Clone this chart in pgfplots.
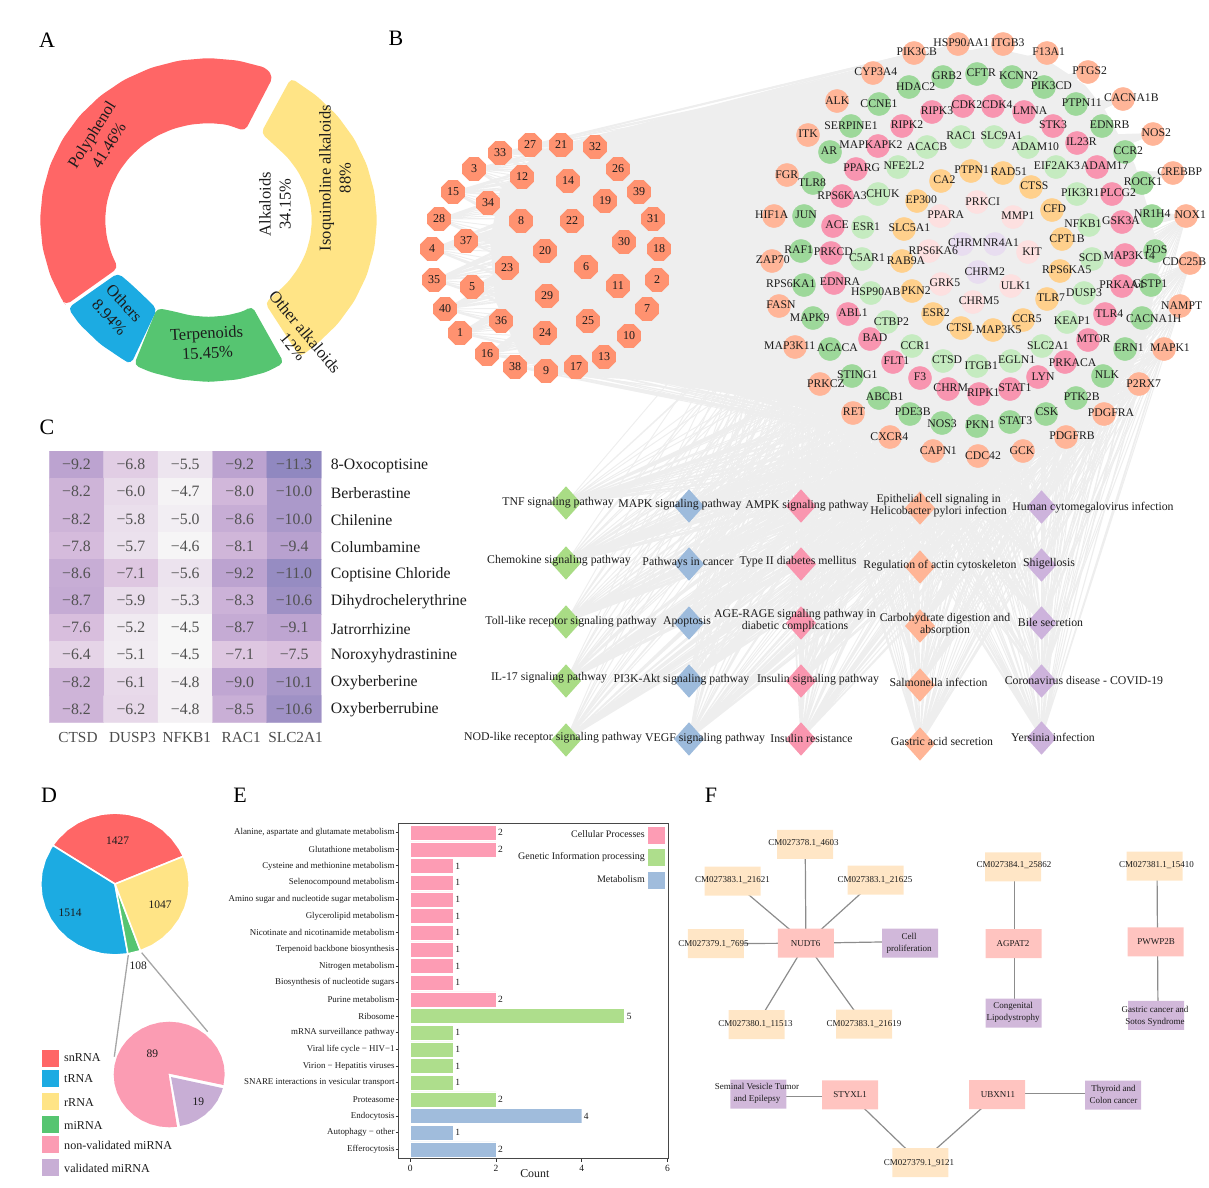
\documentclass[border=0pt]{standalone}
\usepackage{fontspec}
\setmainfont{Liberation Serif}
\usepackage{pgfplots}
\usepackage{pgfplotstable}
\pgfplotsset{compat=1.18}
\newcommand\fs[2]{\fontsize{#1}{#2}\selectfont}

\definecolor{dred}{HTML}{FF6666}
\definecolor{dyel}{HTML}{FFE486}
\definecolor{dblu}{HTML}{1CABE2}
\definecolor{dgrn}{HTML}{56C571}
\definecolor{mpink}{HTML}{FB9CB3}
\definecolor{mlil}{HTML}{C8AED5}
\definecolor{edge}{HTML}{EEEEEE}
\definecolor{comp}{HTML}{FF9270}
\definecolor{tS}{HTML}{FFB598}
\definecolor{tG}{HTML}{9DD89A}
\definecolor{tP}{HTML}{F895B0}
\definecolor{tL}{HTML}{C5EBC0}
\definecolor{tO}{HTML}{FFD08C}
\definecolor{tW}{HTML}{FDE0E0}
\definecolor{tV}{HTML}{E8DDF0}
\definecolor{pG}{HTML}{A9DC85}
\definecolor{pB}{HTML}{9DBBDC}
\definecolor{pP}{HTML}{F996AF}
\definecolor{pO}{HTML}{FFB596}
\definecolor{pV}{HTML}{CDB3DC}
\definecolor{ePk}{HTML}{FD9CB4}
\definecolor{eGr}{HTML}{AEDE8C}
\definecolor{eBl}{HTML}{A0BCDC}
\definecolor{fP}{HTML}{FFC4C0}
\definecolor{fO}{HTML}{FFE6C6}
\definecolor{fV}{HTML}{D1B8DA}
\definecolor{ink}{HTML}{1C1C1C}

\tikzset{
  lab/.style={font=\fs{11.8}{12}, text=ink, inner sep=0pt, align=center},
  flab/.style={font=\fs{9}{12}, text=ink, inner sep=0pt, align=center},
  dlab/.style={font=\fs{16.5}{20}, text=ink, inner sep=0pt, align=center},
  plab/.style={font=\fs{11.5}{13}, text=ink, inner sep=0pt},
  panel/.style={font=\fs{22}{24}, text=black, inner sep=0pt},
}
\pgfplotsset{pixelaxis/.style={
  scale only axis, width=1209pt, height=1187pt,
  xmin=0, xmax=1209, ymin=0, ymax=1187, y dir=reverse,
  axis lines=none, clip=false}}

\pgfdeclareplotmark{nil}{}
\pgfdeclareplotmark{oct}{%
  \pgfpathmoveto{\pgfpointpolar{22.5}{12.8pt}}
  \pgfpathlineto{\pgfpointpolar{67.5}{12.8pt}}
  \pgfpathlineto{\pgfpointpolar{112.5}{12.8pt}}
  \pgfpathlineto{\pgfpointpolar{157.5}{12.8pt}}
  \pgfpathlineto{\pgfpointpolar{202.5}{12.8pt}}
  \pgfpathlineto{\pgfpointpolar{247.5}{12.8pt}}
  \pgfpathlineto{\pgfpointpolar{292.5}{12.8pt}}
  \pgfpathlineto{\pgfpointpolar{337.5}{12.8pt}}
  \pgfpathclose\pgfusepathqfill}
\pgfdeclareplotmark{dia}{%
  \pgfpathmoveto{\pgfqpoint{15pt}{0pt}}\pgfpathlineto{\pgfqpoint{0pt}{16.7pt}}
  \pgfpathlineto{\pgfqpoint{-15pt}{0pt}}\pgfpathlineto{\pgfqpoint{0pt}{-16.7pt}}
  \pgfpathclose\pgfusepathqfill}
\pgfdeclareplotmark{rbox}{%
  \pgfsetcornersarced{\pgfqpoint{3pt}{3pt}}
  \pgfpathmoveto{\pgfqpoint{0pt}{-14.5pt}}
  \pgfpathlineto{\pgfqpoint{28pt}{-14.5pt}}
  \pgfpathlineto{\pgfqpoint{28pt}{14.5pt}}
  \pgfpathlineto{\pgfqpoint{-28pt}{14.5pt}}
  \pgfpathlineto{\pgfqpoint{-28pt}{-14.5pt}}
  \pgfpathclose\pgfusepathqfill}

% compounds of panel B
\pgfplotstableread{
x y n
530 145 27
561 145 21
595 147 32
500 153 33
474 169 3
522 177 12
568 181 14
618 169 26
639 192 39
453 192 15
488 203 34
605 201 19
439 219 28
521 221 8
572 221 22
653 219 31
466 241 37
432 249 4
545 251 20
624 242 30
659 249 18
586 267 6
507 268 23
434 280 35
472 287 5
657 280 2
618 286 11
547 296 29
445 309 40
647 309 7
501 321 36
588 321 25
545 333 24
460 333 1
629 336 10
487 354 16
604 357 13
576 367 17
515 367 38
546 371 9
}\compounds

% targets of panel B: centre, label offset, group, name
\pgfplotstableread{
x y dx dy c name
914 53 2.7 1.7 s PIK3CB
958 44 3.3 1.3 s HSP90AA1
1003 44 5 1.3 s ITGB3
1047 53 1.7 1 s F13A1
873 73 2.7 1 s CYP3A4
1088 72 1.7 1.3 s PTGS2
837 101 0.3 0.7 s ALK
1123 99 8.3 1 s CACNA1B
808 135 0 1.3 s ITK
1153 134 3.3 1 s NOS2
787 175 -0.3 0.7 s FGR
1173 173 6.7 1 s CREBBP
774 216 -2.3 1 s HIF1A
1186 216 4.3 1 s NOX1
772 261 0.7 1.3 s ZAP70
1190 263 -5.7 1 s CDC25B
779 306 2 1.7 s FASN
1180 306 1.7 0.7 s NAMPT
795 347 -5.3 1.7 s MAP3K11
1164 349 6 1.3 s MAPK1
820 384 6 0.7 s PRKCZ
1139 384 4.7 0.7 s P2RX7
853 413 1 1.3 s RET
1104 414 7 1 s PDGFRA
890 437 -0.7 0 s CXCR4
1066 437 6 1 s PDGFRB
933 451 5.3 0.7 s CAPN1
978 456 5 0.7 s CDC42
1023 451 -1 0.7 s GCK
943 77 4 1.3 g GRB2
977 74 4.3 1.7 g CFTR
1012 77 6.7 1.3 g KCNN2
909 87 6.7 0.7 g HDAC2
1044 87 7.3 1 g PIK3CD
879 104 0 0.7 g CCNE1
1076 104 5.7 1.3 g PTPN11
851 126 0 0.7 g SERPINE1
1102 126 7.7 1 g EDNRB
830 152 -1 1 g AR
1125 152 3.3 1 g CCR2
813 183 -1 0.7 g TLR8
1142 183 1 1.3 g ROCK1
804 216 2 1 g JUN
1152 216 0.3 2.7 g NR1H4
801 251 -2.3 1.7 g RAF1
1155 251 1.7 1.7 g FOS
804 285 -13.3 1 g RPS6KA1
1151 285 -1 1.3 g GSTP1
813 318 -3.3 0 g MAPK9
1142 318 11.7 -0.7 g CACNA1H
830 349 7.3 1.3 g ACACA
1125 349 4 1.3 g ERN1
852 376 5.3 1 g STING1
1103 376 4 1 g NLK
879 398 5.7 1 g ABCB1
1076 398 5.7 1 g PTK2B
910 414 2.7 2.7 g PDE3B
1046 414 1 2.7 g CSK
942 423 0 -0.7 g NOS3
1010 422 5.7 1 g STAT3
977 426 3.3 1.3 g PKN1
932 112 5 1.3 p RIPK3
963 106 4 1.3 p CDK2
993 106 4.3 1.3 p CDK4
1024 112 6 1.3 p LMNA
902 126 5 1.3 p RIPK2
1053 126 0 1 p STK3
878 146 -7 1 p MAPKAPK2
1077 143 4.3 1.3 p IL23R
856 169 5.7 1 p PPARG
1097 167 7.7 1.7 p ADAM17
842 196 0 0.7 p RPS6KA3
1112 194 6 1 p PLCG2
833 226 4 1.3 p ACE
1122 222 -1 1.7 p GSK3A
831 253 2.3 1.7 p PRKCD
1125 255 4.3 -0.7 p MAP3K14
834 283 6 1.3 p EDNRA
1122 286 0 1.7 p PRKAA1
848 314 5 1.7 p ABL1
1105 314 4.3 0.3 p TLR4
870 339 5 1 p BAD
1088 340 5.7 1 p MTOR
893 362 3.3 1 p FLT1
1065 362 7.7 -0.7 p PRKACA
920 378 0 1 p F3
1038 377 5 0.7 p LYN
948 389 2.7 1.3 p CHRM
979 394 4.3 1 p RIPK1
1010 389 5 1.3 p STAT1
961 137 0.3 1 l RAC1
994 137 7.3 1 l SLC9A1
927 147 0 0.7 l ACACB
1028 147 7.3 0.7 l ADAM10
898 167 6 1.3 l NFE2L2
1056 167 1 1.3 l EIF2AK3
878 194 5 0.3 l CHUK
1077 194 3.3 1 l PIK3R1
863 227 3.3 0.7 l ESR1
1089 225 -6 1.7 l NFKB1
862 259 5 1 l C5AR1
1092 259 -1.7 1.3 l SCD
871 293 4.7 1 l HSP90AB
1084 293 0 0 l DUSP3
887 322 4.3 0.7 l CTBP2
1067 322 5 1 l KEAP1
912 346 3.3 0.7 l CCR1
1042 346 6 0.7 l SLC2A1
943 361 4 1 l CTSD
1011 361 5.7 1 l EGLN1
977 366 4.3 0.7 l ITGB1
971 171 0.7 1 o PTPN1
1003 173 5.7 1 o RAD51
941 181 3.3 1 o CA2
1031 187 3.3 1.3 o CTSS
917 201 4.3 1 o EP300
1052 210 2.7 1.7 o CFD
904 229 5.3 1.3 o SLC5A1
1062 239 5 0.7 o CPT1B
902 261 4 0.7 o RAB9A
1060 271 6.7 1 o RPS6KA5
912 291 4 0.7 o PKN2
1047 299 4 1 o TLR7
933 314 3 1 o ESR2
1023 320 4 1 o CCR5
961 328 -0.3 0.7 o CTSL
993 330 5.7 0.7 o MAP3K5
977 202 5.7 0.7 w PRKCI
940 216 5.7 1 w PPARA
1013 217 5 1 w MMP1
929 251 4.3 0 w RPS6KA6
1028 252 4 0.7 w KIT
941 284 4 1 w GRK5
1011 286 4.7 0.7 w ULK1
973 302 6 1.3 w CHRM5
962 244 3.3 1.7 v CHRM
995 244 5.7 1.7 v NR4A1
978 272 6.7 0.7 v CHRM2
}\targets

% heat map of panel C: column, row, score, printed value
\pgfplotstableread{
x y v t
0 0 -9.2 −9.2
1 0 -6.8 −6.8
2 0 -5.5 −5.5
3 0 -9.2 −9.2
4 0 -11.3 −11.3
0 1 -8.2 −8.2
1 1 -6.0 −6.0
2 1 -4.7 −4.7
3 1 -8.0 −8.0
4 1 -10.0 −10.0
0 2 -8.2 −8.2
1 2 -5.8 −5.8
2 2 -5.0 −5.0
3 2 -8.6 −8.6
4 2 -10.0 −10.0
0 3 -7.8 −7.8
1 3 -5.7 −5.7
2 3 -4.6 −4.6
3 3 -8.1 −8.1
4 3 -9.4 −9.4
0 4 -8.6 −8.6
1 4 -7.1 −7.1
2 4 -5.6 −5.6
3 4 -9.2 −9.2
4 4 -11.0 −11.0
0 5 -8.7 −8.7
1 5 -5.9 −5.9
2 5 -5.3 −5.3
3 5 -8.3 −8.3
4 5 -10.6 −10.6
0 6 -7.6 −7.6
1 6 -5.2 −5.2
2 6 -4.5 −4.5
3 6 -8.7 −8.7
4 6 -9.1 −9.1
0 7 -6.4 −6.4
1 7 -5.1 −5.1
2 7 -4.5 −4.5
3 7 -7.1 −7.1
4 7 -7.5 −7.5
0 8 -8.2 −8.2
1 8 -6.1 −6.1
2 8 -4.8 −4.8
3 8 -9.0 −9.0
4 8 -10.1 −10.1
0 9 -8.2 −8.2
1 9 -6.2 −6.2
2 9 -4.8 −4.8
3 9 -8.5 −8.5
4 9 -10.6 −10.6
}\heat

% hubs and a sample of the nodes that the grey edges run to
\def\compHubs{530/145,561/145,595/147,500/153,474/169,522/177,568/181,618/169,639/192,453/192,488/203,605/201,439/219,521/221,572/221,653/219,466/241,432/249,545/251,624/242,659/249,586/267,507/268,434/280,472/287,657/280,618/286,547/296,445/309,647/309,501/321,588/321,545/333,460/333,629/336,487/354,604/357,576/367,515/367,546/371}
\def\compEnds{914/53,873/73,837/101,808/135,787/175,774/216,772/261,779/306,795/347,820/384,853/413,890/437,933/451,978/456,958/44,1003/44,1186/216,1173/173,1153/134,1123/99,1088/72,1047/53}
\def\pathHubs{566/503,566/563,566/622,566/681,566/740,689/506,689/564,689/623,689/681,689/739,801/506,801/564,801/623,801/681,801/739,920/508,920/567,920/626,920/685,920/744,1041.5/507,1041.5/565,1041.5/623,1041.5/681,1041.5/738}
\def\pathEnds{772/261,779/306,795/347,820/384,853/413,890/437,933/451,978/456,1023/451,1066/437,1104/414,1139/384,1164/349,1180/306,1190/263,1186/216,870/339,912/346,977/366,1042/346,1103/376,1010/389,948/389,1125/349,830/349,852/376,879/398,910/414,942/423,977/426,1010/422,1046/414,1076/398,893/362,1088/340,1065/362,1142/318,1151/285,804/285,813/318}
\newcommand\fan[2]{%
  \foreach \hx/\hy in #1{%
    \gdef\fanpts{}%
    \foreach \tx/\ty in #2{\xdef\fanpts{\fanpts(\hx,\hy)(\tx,\ty)}}%
    \edef\fantmp{\noexpand\addplot[color=edge,line width=1pt] coordinates {\fanpts};}\fantmp
  }}

\begin{document}
\begin{tikzpicture}
\useasboundingbox (0,0) rectangle (1209pt,1187pt);
\begin{axis}[pixelaxis]
% panel A: donut
\addplot[fill=dred,draw=none,rounded corners=5pt] coordinates {
 (273,77)(266.1,67.8)(237.8,60.5)(208.5,58)(179.2,60.5)(150.9,67.8)(124.2,79.7)(100.2,95.9)(79.4,115.9)(62.6,139)(50.2,164.6)(42.6,191.9)(40,220)(42.6,248.1)(50.2,275.4)(62.6,301)(66,305)
 (118,268)(111.2,253.2)(106.6,236.8)(105,220)(106.6,203.2)(111.2,186.8)(118.9,171.5)(129.2,157.6)(142,145.7)(156.7,136)(173.1,128.8)(190.5,124.5)(208.5,123)(226.5,124.5)(245,131)} --cycle;
\addplot[fill=dyel,draw=none,rounded corners=5pt] coordinates {
 (291,78)(316.8,95.9)(337.6,115.9)(354.4,139)(366.8,164.6)(374.4,191.9)(377,220)(374.4,248.1)(366.8,275.4)(354.4,301)(337.6,324.1)(316.8,344.1)(300,357)
 (265,303)(275,294.3)(287.8,282.4)(298.1,268.5)(305.8,253.2)(310.4,236.8)(312,220)(310.4,203.2)(305.8,186.8)(298.1,171.5)(287.8,157.6)(275,145.7)(261,133)} --cycle;
\addplot[fill=dgrn,draw=none,rounded corners=5pt] coordinates {
 (134,365)(150.9,372.2)(179.2,379.5)(208.5,382)(237.8,379.5)(266.1,372.2)(284,363)
 (252,306)(243.9,311.2)(226.5,315.5)(208.5,317)(190.5,315.5)(173.1,311.2)(157,308)} --cycle;
\addplot[fill=dblu,draw=none,rounded corners=5pt] coordinates {
 (68,308)(79.4,324.1)(100.2,344.1)(124.2,360.3)(131,364)
 (157,309)(142,294.3)(129.2,282.4)(118,273)} --cycle;

% panel B: grey edges, then nodes, then labels
\addplot[fill=edge,draw=none] coordinates {
 (590,138)(800,85)(905,60)(960,50)(1003,50)(1047,60)(1085,85)(1105,110)(1135,165)(1150,215)(1160,260)(1145,345)(1110,400)(1070,440)(1000,460)(930,455)(850,425)(780,400)(640,380)(560,375)(520,355)(495,300)(490,240)(500,190)(540,150)} --cycle;
\fan{\compHubs}{\compEnds}
\fan{\pathHubs}{\pathEnds}
\addplot[only marks, mark=oct, color=comp, point meta=explicit symbolic, nodes near coords,
  every node near coord/.append style={anchor=center, font=\fs{12}{12}, text=ink, inner sep=0pt}]
  table[x=x,y=y,meta=n] {\compounds};
\addplot[scatter, only marks, mark size=11.6pt, point meta=explicit symbolic,
  scatter/classes={
    s={mark=*,draw=tS,fill=tS}, g={mark=*,draw=tG,fill=tG}, p={mark=*,draw=tP,fill=tP},
    l={mark=*,draw=tL,fill=tL}, o={mark=*,draw=tO,fill=tO}, w={mark=*,draw=tW,fill=tW},
    v={mark=*,draw=tV,fill=tV}}]
  table[x=x,y=y,meta=c] {\targets};
\addplot[only marks, mark=nil, point meta=explicit symbolic, nodes near coords,
  visualization depends on={\thisrow{dx} \as \ldx},
  visualization depends on={\thisrow{dy} \as \ldy},
  every node near coord/.append style={anchor=center, xshift=\ldx pt, yshift=\ldy pt,
     font=\fs{11.7}{12}, text=ink, inner sep=0pt}]
  table[x=x,y=y,meta=name] {\targets};

% pathways
\addplot[only marks, mark=dia, color=pG] coordinates {(566,503)(566,563)(566,622)(566,681)(566,740)};
\addplot[only marks, mark=dia, color=pB] coordinates {(689,506)(689,564)(689,623)(689,681)(689,739)};
\addplot[only marks, mark=dia, color=pP] coordinates {(801,506)(801,564)(801,623)(801,681)(801,739)};
\addplot[only marks, mark=dia, color=pO] coordinates {(920,508)(920,567)(920,626)(920,685)(920,744)};
\addplot[only marks, mark=dia, color=pV] coordinates {(1041.5,507)(1041.5,565)(1041.5,623)(1041.5,681)(1041.5,738)};

% panel D: pies
\addplot[fill=dred,draw=white,line width=1.6pt] coordinates {
 (115,884)(183.4,856.3)(179.3,848.5)(171.9,838.4)(162.8,829.6)(152.2,822.5)(140.4,817.3)(127.9,814.1)(115,813)(102.1,814.1)(89.6,817.3)(77.9,822.5)(67.2,829.6)(58.1,838.4)(52.7,845.3)} --cycle;
\addplot[fill=dblu,draw=white,line width=1.6pt] coordinates {
 (115,884)(52.7,845.3)(50.7,848.5)(45.2,859.7)(41.8,871.7)(40.7,884)(41.8,896.3)(45.2,908.3)(50.7,919.5)(58.1,929.6)(67.2,938.4)(77.9,945.5)(89.6,950.7)(102.1,953.9)(115,955)(127.9,953.9)} --cycle;
\addplot[fill=dgrn,draw=white,line width=1.6pt] coordinates {
 (115,884)(127.9,953.9)(140.4,950.7)} --cycle;
\addplot[fill=dyel,draw=white,line width=1.6pt] coordinates {
 (115,884)(140.4,950.7)(152.2,945.5)(162.8,938.4)(171.9,929.6)(179.3,919.5)(184.8,908.3)(188.2,896.3)(189.3,884)(188.2,871.7)(184.8,859.7)(183.4,856.3)} --cycle;
\addplot[color=black!35,line width=1.3pt] coordinates {(128.3,955)(114.3,1056.7)};
\addplot[color=black!35,line width=1.3pt] coordinates {(141.7,952.7)(207.7,1031.7)};
\addplot[fill=mpink,draw=none] coordinates {
 (168.5,1073.5)(223.5,1085)(224.7,1074.5)(223.9,1065.3)(221.4,1056.4)(217.3,1048.1)(211.7,1040.6)(204.9,1034.1)(197,1028.8)(188.2,1024.9)(178.8,1022.5)(169.2,1021.7)(159.6,1022.5)(150.2,1024.9)(141.4,1028.8)(133.5,1034.1)(126.7,1040.6)(121.1,1048.1)(117,1056.4)(114.5,1065.3)(113.7,1074.5)(114.5,1083.7)(117,1092.6)(121.1,1100.9)(126.7,1108.4)(133.5,1114.9)(141.4,1120.2)(150.2,1124.1)(159.6,1126.5)(169.2,1127.3)(177,1126.8)} --cycle;
\addplot[fill=mlil,draw=none] coordinates {
 (171,1077)(222.8,1088.2)(221.4,1092.6)(217.3,1100.9)(211.7,1108.4)(204.9,1114.9)(197,1120.2)(188.2,1124.1)(180,1126)} --cycle;
\addplot[only marks, mark=square*, mark size=8pt, color=dred] coordinates {(49.7,1057.7)};
\addplot[only marks, mark=square*, mark size=8pt, color=dblu] coordinates {(49.7,1078.3)};
\addplot[only marks, mark=square*, mark size=8pt, color=dyel] coordinates {(49.7,1100.7)};
\addplot[only marks, mark=square*, mark size=8pt, color=dgrn] coordinates {(49.7,1124)};
\addplot[only marks, mark=square*, mark size=8pt, color=mpink] coordinates {(49.7,1144.3)};
\addplot[only marks, mark=square*, mark size=8pt, color=mlil] coordinates {(49.7,1166.7)};

% legend of panel E
\addplot[only marks, mark=square*, mark size=8pt, color=ePk] coordinates {(656.3,835.3)};
\addplot[only marks, mark=square*, mark size=8pt, color=eGr] coordinates {(656.3,857)};
\addplot[only marks, mark=square*, mark size=8pt, color=eBl] coordinates {(656.3,879.7)};

% panel F: networks
\addplot[color=black!45,line width=1.2pt] coordinates {(805.9,943.2)(805.2,844.4)};
\addplot[color=black!45,line width=1.2pt] coordinates {(805.9,943.2)(732.5,881)};
\addplot[color=black!45,line width=1.2pt] coordinates {(805.9,943.2)(875.6,880)};
\addplot[color=black!45,line width=1.2pt] coordinates {(805.9,943.2)(715.9,943.6)};
\addplot[color=black!45,line width=1.2pt] coordinates {(805.9,943.2)(910.2,941.5)};
\addplot[color=black!45,line width=1.2pt] coordinates {(805.9,943.2)(756.6,1024.5)};
\addplot[color=black!45,line width=1.2pt] coordinates {(805.9,943.2)(864,1024.1)};
\addplot[color=black!45,line width=1.2pt] coordinates {(1014.5,866.8)(1014.5,1013.2)};
\addplot[color=black!45,line width=1.2pt] coordinates {(1157,866.1)(1158,1015.3)};
\addplot[color=black!45,line width=1.2pt] coordinates {(758.3,1096.5)(850.1,1096.5)};
\addplot[color=black!45,line width=1.2pt] coordinates {(850.1,1094.8)(920.4,1162.7)(997.2,1094.5)};
\addplot[color=black!45,line width=1.2pt] coordinates {(997.2,1093.5)(1113.1,1093.5)};
\addplot[only marks, mark=rbox, color=fO] coordinates {(805.2,844.4)(732.5,881)(875.6,880)(715.9,943.6)(756.6,1024.5)(864,1024.1)(1013.2,866.8)(1154.5,866.1)(920.4,1162.7)};
\addplot[only marks, mark=rbox, color=fP] coordinates {(805.9,943.2)(1013.5,943.6)(1155.6,941.9)(850.1,1094.8)(997.2,1094.5)};
\addplot[only marks, mark=rbox, color=fV] coordinates {(910.2,943.2)(1013.5,1013.2)(1156.2,1015.3)(758.3,1094.1)(1113.1,1095.1)};
\end{axis}

% texts go in their own axis so that they lie above every mark
\begin{axis}[pixelaxis]
\addplot[only marks, mark=nil] coordinates {(0,0)};
\node[dlab,rotate=58] at (100,140) {Polyphenol\\41.46\%};
\node[dlab,rotate=90] at (275,204) {Alkaloids\\34.15\%};
\node[dlab,rotate=90] at (335,178) {Isoquinoline alkaloids\\88\%};
\node[dlab,rotate=-47] at (117,310) {Others\\8.94\%};
\node[dlab,rotate=3] at (207,343) {Terpenoids\\15.45\%};
\node[dlab,rotate=-50,anchor=center] at (305,332) {Other alkaloids};
\node[dlab,rotate=-50,anchor=center] at (293,347) {12\%};

\node[lab] at (558,503) {TNF signaling pathway};
\node[lab] at (680,505) {MAPK signaling pathway};
\node[lab] at (807,506) {AMPK signaling pathway};
\node[lab] at (938.6,506) {Epithelial cell signaling in\\Helicobacter pylori infection};
\node[lab] at (1093,508) {Human cytomegalovirus infection};
\node[lab] at (559,561) {Chemokine signaling pathway};
\node[lab] at (688,563) {Pathways in cancer};
\node[lab] at (798,562) {Type II diabetes mellitus};
\node[lab] at (940,566) {Regulation of actin cytoskeleton};
\node[lab] at (1049,564) {Shigellosis};
\node[lab] at (571,622) {Toll-like receptor signaling pathway};
\node[lab] at (687,622) {Apoptosis};
\node[lab] at (795,621) {AGE-RAGE signaling pathway in\\diabetic complications};
\node[lab] at (945,625) {Carbohydrate digestion and\\absorption};
\node[lab] at (1050.5,622) {Bile secretion};
\node[lab] at (549,678) {IL-17 signaling pathway};
\node[lab] at (681.5,680) {PI3K-Akt signaling pathway};
\node[lab] at (818,680) {Insulin signaling pathway};
\node[lab] at (938.6,682) {Salmonella infection};
\node[lab] at (1084,680) {Coronavirus disease - COVID-19};
\node[lab] at (553,738) {NOD-like receptor signaling pathway};
\node[lab] at (705,739) {VEGF signaling pathway};
\node[lab] at (811.5,738) {Insulin resistance};
\node[lab] at (942,741) {Gastric acid secretion};
\node[lab] at (1053,737) {Yersinia infection};

\node[plab] at (117.7,841) {1427};
\node[plab] at (70,912.3) {1514};
\node[plab] at (160,904.3) {1047};
\node[plab] at (138.3,965.7) {108};
\node[plab] at (152.3,1053.7) {89};
\node[plab] at (198.3,1101.7) {19};
\node[plab,font=\fs{12.1}{13},anchor=west] at (64,1058) {snRNA};
\node[plab,font=\fs{12.1}{13},anchor=west] at (64,1079) {tRNA};
\node[plab,font=\fs{12.1}{13},anchor=west] at (64,1102) {rRNA};
\node[plab,font=\fs{12.1}{13},anchor=west] at (64,1125) {miRNA};
\node[plab,font=\fs{12.1}{13},anchor=west] at (64,1145) {non-validated miRNA};
\node[plab,font=\fs{12.1}{13},anchor=west] at (64,1168) {validated miRNA};

\node[plab,font=\fs{10}{11},anchor=east] at (645,834) {Cellular Processes};
\node[plab,font=\fs{10}{11},anchor=east] at (645,856.7) {Genetic Information processing};
\node[plab,font=\fs{10}{11},anchor=east] at (645,879) {Metabolism};

\node[flab] at (803.5,843) {CM027378.1\_4603};
\node[flab] at (732.5,880.5) {CM027383.1\_21621};
\node[flab] at (875,880.5) {CM027383.1\_21625};
\node[flab] at (713.5,944) {CM027379.1\_7695};
\node[flab] at (805.5,944) {NUDT6};
\node[flab] at (909,943) {Cell\\proliferation};
\node[flab] at (755.5,1024) {CM027380.1\_11513};
\node[flab] at (864,1024) {CM027383.1\_21619};
\node[flab] at (1014,865) {CM027384.1\_25862};
\node[flab] at (1013,944) {AGPAT2};
\node[flab] at (1013,1012.5) {Congenital\\Lipodystrophy};
\node[flab] at (1156.5,865) {CM027381.1\_15410};
\node[flab] at (1156,942) {PWWP2B};
\node[flab] at (1155,1016) {Gastric cancer and\\Sotos Syndrome};
\node[flab] at (757,1093.5) {Seminal Vesicle Tumor\\and Epilepsy};
\node[flab] at (850,1095) {STYXL1};
\node[flab] at (998,1094.5) {UBXN11};
\node[flab] at (1113.5,1094) {Thyroid and\\Colon cancer};
\node[flab] at (919,1163) {CM027379.1\_9121};

\node[panel] at (47,40) {A};
\node[panel] at (396,38) {B};
\node[panel] at (47,427) {C};
\node[panel] at (49,795) {D};
\node[panel] at (240,795) {E};
\node[panel] at (711,795) {F};
\end{axis}

% panel C: docking heat map
\begin{axis}[
  at={(49.3pt,464.3pt)}, anchor=south west,
  scale only axis, width=272pt, height=271.7pt,
  xmin=-0.5, xmax=4.5, ymin=-0.5, ymax=9.5, y dir=reverse,
  axis line style={draw=none}, tick style={draw=none},
  xtick={0,1,2,3,4}, xticklabels={CTSD,DUSP3,NFKB1,RAC1,SLC2A1},
  ytick={0,1,...,9},
  yticklabels={8-Oxocoptisine,Berberastine,Chilenine,Columbamine,Coptisine Chloride,Dihydrochelerythrine,Jatrorrhizine,Noroxyhydrastinine,Oxyberberine,Oxyberberrubine},
  yticklabel pos=right,
  xticklabel style={font=\fs{15.3}{16},text=black!70,yshift=-6pt,xshift=1.5pt},
  yticklabel style={font=\fs{15.8}{16},text=ink,xshift=6pt,yshift=-1pt},
  point meta min=-11.3, point meta max=-4.5,
  colormap={dock}{rgb255(0cm)=(144,136,192) rgb255(2.3cm)=(192,166,210) rgb255(3.8cm)=(218,192,222) rgb255(6.8cm)=(247,247,247)},
]
\addplot[matrix plot*, point meta=\thisrow{v}, mesh/cols=5, mesh/rows=10] table[x=x,y=y] {\heat};
\addplot[only marks, mark=nil, point meta=explicit symbolic, nodes near coords,
  every node near coord/.append style={anchor=center, font=\fs{15.8}{16}, text=black!68, inner sep=0pt}]
  table[x=x,y=y,meta=t] {\heat};
\end{axis}

% panel E: enrichment bars
\begin{axis}[
  at={(398.7pt,28.3pt)}, anchor=south west,
  scale only axis, width=269.6pt, height=335.4pt,
  xmin=-0.27, xmax=6.02, ymin=-0.56, ymax=19.56, y dir=reverse,
  axis line style={draw=black!72, line width=1.3pt},
  xtick={0,2,4,6}, ytick={0,1,...,19},
  tick style={draw=black!80, line width=1pt}, major tick length=3pt,
  tick align=outside, xtick pos=bottom, ytick pos=left,
  /pgf/number format/assume math mode=true,
  xticklabel style={font=\fs{9.5}{10},text=ink},
  yticklabel style={font=\fs{8.9}{10},text=ink,inner sep=1pt},
  yticklabels={{Alanine, aspartate and glutamate metabolism},Glutathione metabolism,Cysteine and methionine metabolism,Selenocompound metabolism,Amino sugar and nucleotide sugar metabolism,Glycerolipid metabolism,Nicotinate and nicotinamide metabolism,Terpenoid backbone biosynthesis,Nitrogen metabolism,Biosynthesis of nucleotide sugars,Purine metabolism,Ribosome,mRNA surveillance pathway,Viral life cycle − HIV−1,Virion − Hepatitis viruses,SNARE interactions in vesicular transport,Proteasome,Endocytosis,Autophagy − other,Efferocytosis},
  xlabel={Count},
  xlabel style={at={(axis description cs:0.505,-0.0456)},anchor=center,font=\fs{11.9}{12},text=ink},
  bar width=15pt, bar shift=0pt,
  nodes near coords, point meta=x, nodes near coords align={horizontal},
  every node near coord/.append style={font=\fs{9.5}{10},text=ink,inner sep=2pt},
]
\addplot[xbar, fill=ePk, draw=white] coordinates {(2,0)(2,1)(1,2)(1,3)(1,4)(1,5)(1,6)(1,7)(1,8)(1,9)(2,10)};
\addplot[xbar, fill=eGr, draw=white] coordinates {(5,11)(1,12)(1,13)(1,14)(1,15)(2,16)};
\addplot[xbar, fill=eBl, draw=white] coordinates {(4,17)(1,18)(2,19)};
\end{axis}
\end{tikzpicture}
\end{document}
